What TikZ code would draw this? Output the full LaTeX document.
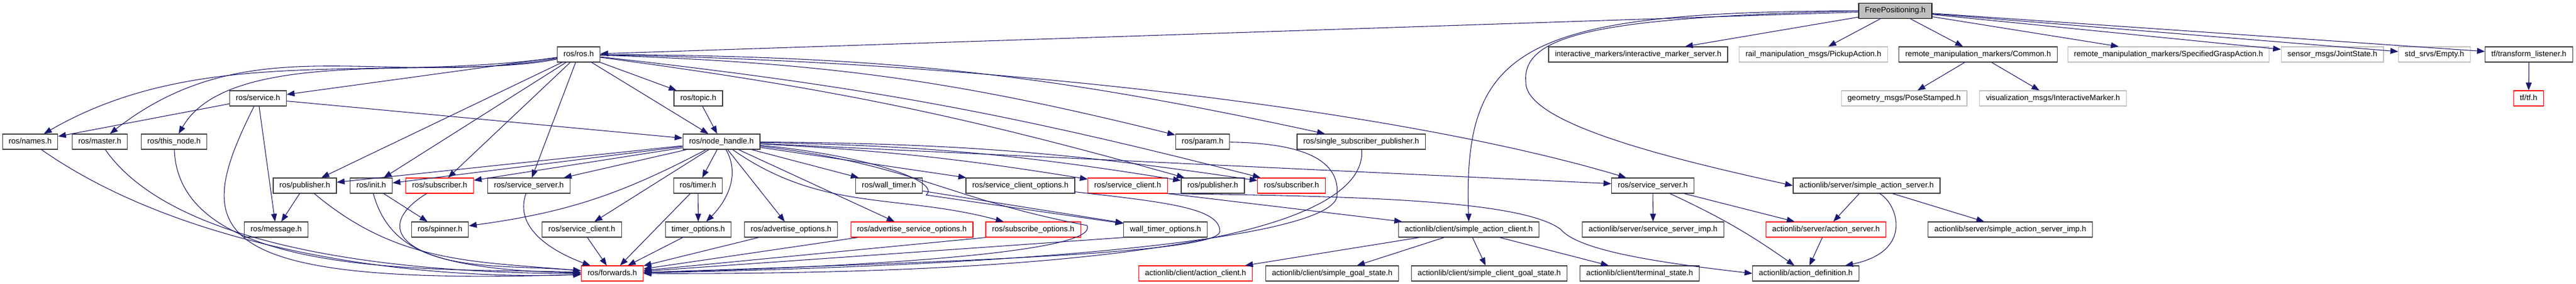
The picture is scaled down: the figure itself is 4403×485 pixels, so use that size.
\documentclass[tikz,border=0pt]{standalone}
\usepackage{fontspec}
\setmainfont{Liberation Sans}
\usetikzlibrary{arrows.meta}

\definecolor{edgeblue}{HTML}{191970}
\definecolor{nodegray}{HTML}{BFBFBF}
\definecolor{nodeline}{HTML}{404040}

\begin{document}
\begin{tikzpicture}[
    % one unit is one pixel of the graph
    x=0.75pt, y=-0.75pt,
    % general settings
    font=\fontsize{10}{12}\selectfont,
    % nodes
    base/.style={rectangle, draw=nodeline, line width=0.9pt, fill=white,
                 minimum height=19.5pt, inner xsep=8pt, inner ysep=0pt,
                 text height=7.2pt, text depth=2pt},
    main/.style={base, draw=black, fill=nodegray},
    trunc/.style={base, draw=red},
    undoc/.style={base, draw=nodegray},
    % arrows
    inc/.style={draw=edgeblue, line width=0.8pt, -{Triangle[length=10pt, width=7.5pt]}},
  ]

  \useasboundingbox (0,0) rectangle (4403,485);

  % row 0 and 1
  \node (fp)       [main]  at (3239.5,18.5) {FreePositioning.h};
  \node (ros)      [base]  at (989,93)      {ros/ros.h};
  \node (ims)      [base]  at (2800,93)     {interactive\_markers/interactive\_marker\_server.h};
  \node (pickup)   [undoc] at (3099.5,93)   {rail\_manipulation\_msgs/PickupAction.h};
  \node (common)   [base]  at (3381,93)     {remote\_manipulation\_markers/Common.h};
  \node (grasp)    [undoc] at (3706.5,93)   {remote\_manipulation\_markers/SpecifiedGraspAction.h};
  \node (joint)    [undoc] at (3986.5,93)   {sensor\_msgs/JointState.h};
  \node (empty)    [undoc] at (4161,93)     {std\_srvs/Empty.h};
  \node (tfl)      [base]  at (4322.5,93)   {tf/transform\_listener.h};

  % row 2
  \node (service)  [base]  at (441,168)     {ros/service.h};
  \node (topic)    [base]  at (1193.5,168)  {ros/topic.h};
  \node (pose)     [undoc] at (3254.5,168)  {geometry\_msgs/PoseStamped.h};
  \node (imarker)  [undoc] at (3509,168)    {visualization\_msgs/InteractiveMarker.h};
  \node (tf)       [trunc] at (4322,168)    {tf/tf.h};

  % row 3
  \node (names)    [base]  at (51.5,242)    {ros/names.h};
  \node (master)   [base]  at (170.5,242)   {ros/master.h};
  \node (thisnode) [base]  at (297.5,242)   {ros/this\_node.h};
  \node (nh)       [base]  at (1233,242)    {ros/node\_handle.h};
  \node (param)    [base]  at (2055.5,242)  {ros/param.h};
  \node (ssp)      [base]  at (2326.5,242)  {ros/single\_subscriber\_publisher.h};

  % row 4
  \node (publ)     [base]  at (521,317)     {ros/publisher.h};
  \node (init)     [base]  at (634.5,317)   {ros/init.h};
  \node (subl)     [trunc] at (751.5,317)   {ros/subscriber.h};
  \node (ssl)      [base]  at (904,317)     {ros/service\_server.h};
  \node (timer)    [base]  at (1193,317)    {ros/timer.h};
  \node (wtimer)   [base]  at (1519.5,317)  {ros/wall\_timer.h};
  \node (sco)      [base]  at (1744,317)    {ros/service\_client\_options.h};
  \node (scr)      [trunc] at (1927.5,317)  {ros/service\_client.h};
  \node (pubr)     [base]  at (2073,317)    {ros/publisher.h};
  \node (subr)     [trunc] at (2207.5,317)  {ros/subscriber.h};
  \node (ssr)      [base]  at (2825,317)    {ros/service\_server.h};
  \node (sas)      [base]  at (3190.5,317)  {actionlib/server/simple\_action\_server.h};

  % row 5
  \node (message)  [base]  at (472,392)     {ros/message.h};
  \node (spinner)  [base]  at (752,392)     {ros/spinner.h};
  \node (scl)      [base]  at (994.5,392)   {ros/service\_client.h};
  \node (topt)     [base]  at (1193.5,392)  {timer\_options.h};
  \node (aopt)     [base]  at (1352,392)    {ros/advertise\_options.h};
  \node (asopt)    [trunc] at (1558.5,392)  {ros/advertise\_service\_options.h};
  \node (sopt)     [trunc] at (1766,392)    {ros/subscribe\_options.h};
  \node (wtopt)    [base]  at (1992,392)    {wall\_timer\_options.h};
  \node (sac)      [base]  at (2510.5,392)  {actionlib/client/simple\_action\_client.h};
  \node (ssimp)    [base]  at (2825.5,392)  {actionlib/server/service\_server\_imp.h};
  \node (as)       [trunc] at (3121,392)    {actionlib/server/action\_server.h};
  \node (sasimp)   [base]  at (3436,392)    {actionlib/server/simple\_action\_server\_imp.h};

  % row 6
  \node (fwd)      [trunc] at (1046.5,467)  {ros/forwards.h};
  \node (ac)       [trunc] at (2043.5,467)  {actionlib/client/action\_client.h};
  \node (sgs)      [base]  at (2277,467)    {actionlib/client/simple\_goal\_state.h};
  \node (scgs)     [base]  at (2545.5,467)  {actionlib/client/simple\_client\_goal\_state.h};
  \node (ts)       [base]  at (2802.5,467)  {actionlib/client/terminal\_state.h};
  \node (ad)       [base]  at (3086.5,467)  {actionlib/action\_definition.h};

  % FreePositioning.h
  \draw[inc] (fp) -- (ros);
  \draw[inc] (fp) -- (ims);
  \draw[inc] (fp) -- (pickup);
  \draw[inc] (fp) -- (common);
  \draw[inc] (fp) -- (grasp);
  \draw[inc] (fp) -- (joint);
  \draw[inc] (fp) -- (empty);
  \draw[inc] (fp) -- (tfl);
  \draw[inc] (fp.west) .. controls (2600,20) and (2500,80) .. (sac.north);
  % loop for simple_action_server arrow
  \coordinate (sasloop) at (2608,140);
  \draw[inc] (fp.west) .. controls (2750,30) and (2600,55) .. (sasloop)
                       .. controls (2606,210) and (2850,270) .. (sas.west);

  \draw[inc] (common) -- (pose);
  \draw[inc] (common) -- (imarker);
  \draw[inc] (tfl)    -- (tf);

  % ros/ros.h
  \draw[inc] (ros) to[out=188,in=30,looseness=0.9]  (names);
  \draw[inc] (ros) to[out=190,in=38]                (master);
  \draw[inc] (ros) to[out=192,in=60,looseness=0.7]  (thisnode);
  \draw[inc] (ros) -- (service);
  \draw[inc] (ros) -- (topic);
  \draw[inc] (ros) -- (nh);
  \draw[inc] (ros) -- (publ);
  \draw[inc] (ros) -- (init);
  \draw[inc] (ros) -- (subl);
  \draw[inc] (ros) -- (ssl);
  \draw[inc] (ros) to[bend left=6] (param);
  \draw[inc] (ros) to[bend left=6] (ssp);
  \draw[inc] (ros) to[bend left=4] (pubr);
  \draw[inc] (ros) to[bend left=4] (subr);
  \draw[inc] (ros) .. controls (1700,105) and (2400,190) .. (ssr);

  % ros/service.h
  \draw[inc] (service) -- (names);
  \draw[inc] (service) -- (nh);
  \draw[inc] (service) -- (message);
  \draw[inc] (service) .. controls (330,390) and (330,490) .. (fwd);
  \draw[inc] (topic)   -- (nh);

  % ros/node_handle.h
  \draw[inc] (nh) -- (publ);
  \draw[inc] (nh) -- (init);
  \draw[inc] (nh) -- (subl);
  \draw[inc] (nh) -- (ssl);
  \draw[inc] (nh) to[bend left=10] (spinner);
  \draw[inc] (nh) -- (scl);
  \draw[inc] (nh) -- (timer);
  \draw[inc] (nh) to[out=-60,in=45] (topt);
  \draw[inc] (nh) -- (aopt);
  \draw[inc] (nh) -- (asopt);
  \draw[inc] (nh) to[out=-35,in=165] (sopt);
  \draw[inc] (nh) -- (wtimer);
  % corner for node_handle -> wall_timer_options arrow
  \coordinate (wtcorner) at (1583,333);
  \draw[inc] (nh) .. controls (1480,265) and (1610,310) .. (wtcorner) -- (wtopt);
  \draw[inc] (nh) -- (sco);
  \draw[inc] (nh) to[bend left=3] (scr);
  \draw[inc] (nh) to[bend left=4] (pubr);
  \draw[inc] (nh) to[bend left=4] (subr);
  \draw[inc] (nh) -- (ssr);
  % loop for node_handle -> forwards arrow
  \coordinate (nhloop) at (1858,385);
  \draw[inc] (nh) .. controls (1560,280) and (1620,340) .. (nhloop)
                  .. controls (1880,430) and (1500,455) .. (fwd);

  % into ros/forwards.h
  \draw[inc] (names)    to[out=-35,in=182,looseness=0.8] (fwd);
  \draw[inc] (master)   to[out=-55,in=180,looseness=0.7] (fwd);
  \draw[inc] (thisnode) to[out=-88,in=178,looseness=0.8] (fwd);
  \draw[inc] (publ)     to[out=-40,in=175] (fwd);
  \draw[inc] (init)     to[out=-75,in=175] (fwd);
  \draw[inc] (subl)     .. controls (640,385) and (660,460) .. (fwd);
  \draw[inc] (ssl)      to[out=-110,in=160] (fwd);
  \draw[inc] (scl)      -- (fwd);
  \draw[inc] (timer)    -- (fwd);
  \draw[inc] (topt)     -- (fwd);
  \draw[inc] (aopt)     -- (fwd);
  \draw[inc] (asopt)    -- (fwd);
  \draw[inc] (sopt.south west)  -- (fwd);
  \draw[inc] (wtopt.south west) -- (fwd);
  % loop for service_client_options -> forwards arrow
  \coordinate (scoloop) at (2085,395);
  \draw[inc] (sco) .. controls (1990,345) and (2085,355) .. (scoloop)
                   .. controls (2085,430) and (1700,445) .. (fwd);
  % loop for param -> forwards arrow
  \coordinate (paramloop) at (2285,335);
  \draw[inc] (param) .. controls (2260,245) and (2290,290) .. (paramloop)
                     .. controls (2280,395) and (1900,450) .. (fwd);
  \draw[inc] (ssp) .. controls (2335,360) and (2100,470) .. (fwd);

  % small ones
  \draw[inc] (publ)   -- (message);
  \draw[inc] (init)   -- (spinner);
  \draw[inc] (timer)  -- (topt);
  \draw[inc] (wtimer) -- (wtopt);

  % actionlib
  \draw[inc] (scr.south east) -- (sac);
  % loop for service_client -> action_definition arrow
  \coordinate (scrloop) at (2668,392);
  \draw[inc] (scr.south east) .. controls (2300,335) and (2600,340) .. (scrloop)
                              .. controls (2700,430) and (2850,450) .. (ad.west);
  \draw[inc] (sac) -- (ac);
  \draw[inc] (sac) -- (sgs);
  \draw[inc] (sac) -- (scgs);
  \draw[inc] (sac) -- (ts);
  \draw[inc] (ssr) -- (ssimp);
  \draw[inc] (ssr) -- (as);
  \draw[inc] (ssr) to[bend left=5] (ad);
  \draw[inc] (sas) -- (as);
  \draw[inc] (sas) .. controls (3245,350) and (3270,430) .. (ad);
  \draw[inc] (sas) -- (sasimp);
  \draw[inc] (as)  -- (ad);

\end{tikzpicture}
\end{document}
